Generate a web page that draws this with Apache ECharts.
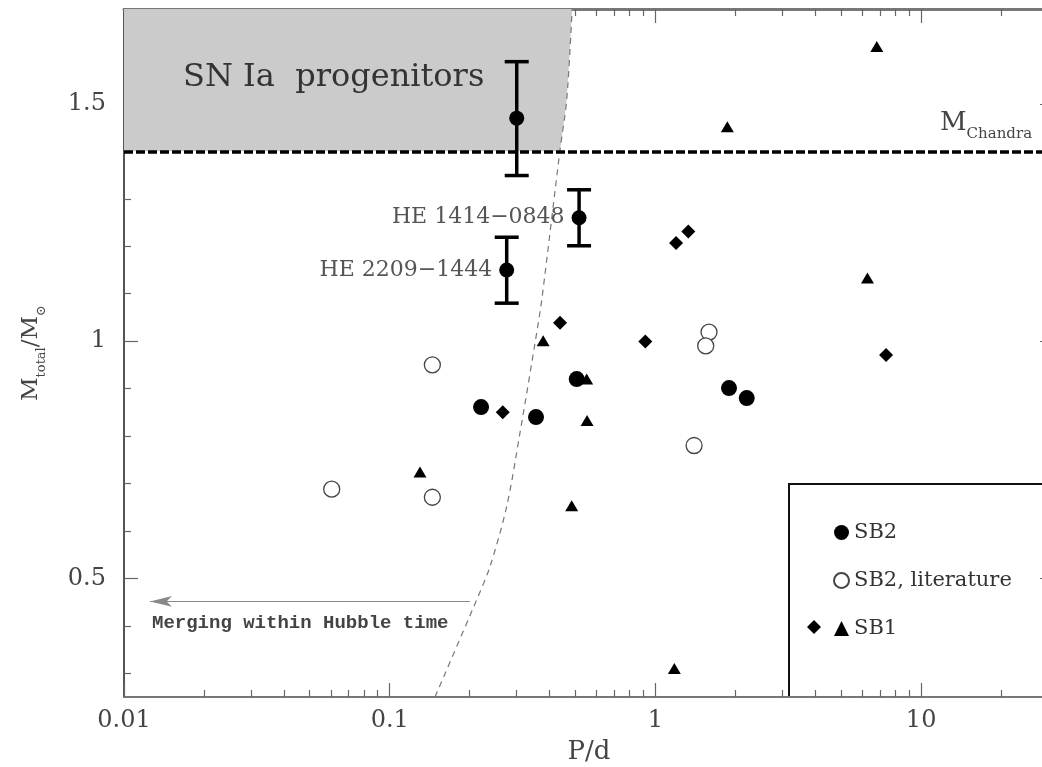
<!DOCTYPE html>
<html><head><meta charset="utf-8">
<script src="https://cdn.jsdelivr.net/npm/echarts@6/dist/echarts.min.js"></script>
<style>html,body{margin:0;padding:0;background:#fff}#c{width:1042px;height:767px}</style>
</head><body><div id="c"></div>
<script>
// ---- axis ticks ----
const xMajorTicks = [0.01, 0.1, 1, 10];
const xMinorTicks = [0.02,0.03,0.04,0.05,0.06,0.07,0.08,0.09,0.2,0.3,0.4,0.5,0.6,0.7,0.8,0.9,2,3,4,5,6,7,8,9,20,30];
const yMajorTicks = [0.5, 1, 1.5];
const yMinorTicks = [0.3,0.4,0.6,0.7,0.8,0.9,1.1,1.2,1.3,1.4,1.6,1.7];

// ---- data ----
// SB2 (filled circles)
const sb2X = [0.2207, 0.3553, 0.5055, 1.892, 2.206];
const sb2Y = [0.861, 0.840, 0.920, 0.901, 0.880];
// SB2 with error bars
const errNames = ['', 'HE 1414\u22120848', 'HE 2209\u22121444'];
const errX  = [0.3006, 0.516, 0.2756];
const errY  = [1.47, 1.26, 1.15];
const errLo = [1.349, 1.201, 1.080];
const errHi = [1.589, 1.319, 1.219];
// SB2 literature (open circles)
const litX = [0.0605, 0.1447, 0.1447, 1.591, 1.546, 1.398];
const litY = [0.688, 0.950, 0.671, 1.019, 0.990, 0.780];
// SB1 diamonds
const diaX = [0.4375, 0.916, 0.2663, 1.196, 1.330, 7.38];
const diaY = [1.039, 0.999, 0.850, 1.207, 1.231, 0.971];
// SB1 triangles
const triX = [6.81, 1.865, 6.28, 0.378, 0.551, 0.553, 0.130, 0.484, 1.178];
const triY = [1.621, 1.452, 1.133, 1.001, 0.920, 0.833, 0.724, 0.653, 0.310];
// merging-within-Hubble-time boundary (dashed curve)
const curveX = [0.148, 0.2125, 0.2385, 0.2757, 0.3093, 0.3575, 0.3735, 0.4375, 0.4637, 0.486];
const curveY = [0.25, 0.455, 0.525, 0.652, 0.807, 1.018, 1.087, 1.403, 1.509, 1.70];
// SN Ia progenitor shaded region
const shadeX = [0.01, 0.437, 0.4637, 0.486, 0.01];
const shadeY = [1.40, 1.40, 1.509, 1.70, 1.70];
const mChandra = 1.4;
const arrowX = [0.2005, 0.01253];
const arrowY = 0.4515;

const xMin = 0.01, xMax = 31.6228, yMin = 0.25, yMax = 1.70;
const SERIF = 'DejaVu Serif';
const zip = (a, b) => a.map((v, i) => [v, b[i]]);

const chart = echarts.init(document.getElementById('c'), null, {renderer: 'canvas'});

function xAxisDef(pos, major, showLine, showLabel) {
  return {
    type: 'log', min: xMin, max: xMax, position: pos,
    axisLine: {show: showLine, lineStyle: {color: '#777', width: pos === 'top' ? 3 : 2}},
    axisTick: {show: true, inside: true, length: major ? 14 : 7, customValues: major ? xMajorTicks : xMinorTicks,
      lineStyle: {color: '#666', width: 1.2}},
    axisLabel: {show: showLabel, customValues: xMajorTicks, margin: 12,
      fontFamily: SERIF, fontSize: 24, color: '#444', formatter: v => String(+(+v).toPrecision(6))},
    splitLine: {show: false}, minorTick: {show: false}
  };
}
function yAxisDef(pos, major, showLine, showLabel) {
  return {
    type: 'value', min: yMin, max: yMax, position: pos,
    axisLine: {show: showLine, lineStyle: {color: '#555', width: 2}},
    axisTick: {show: true, inside: true, length: major ? 14 : 7, customValues: major ? yMajorTicks : yMinorTicks,
      lineStyle: {color: '#666', width: 1.2}},
    axisLabel: {show: showLabel, customValues: yMajorTicks, margin: 18,
      fontFamily: SERIF, fontSize: 24, color: '#444', formatter: v => String(v)},
    splitLine: {show: false}
  };
}

const xAxes = [
  Object.assign(xAxisDef('bottom', true, true, true), {
    name: 'P/d', nameLocation: 'middle', nameGap: 42,
    nameTextStyle: {fontFamily: SERIF, fontSize: 26, color: '#444'}
  }),
  xAxisDef('bottom', false, false, false),
  xAxisDef('top', true, true, false),
  xAxisDef('top', false, false, false)
];
const yAxes = [
  Object.assign(yAxisDef('left', true, true, true), {
    name: '{m|M}{s|total}{m|/M}{s|\u2299}', nameLocation: 'middle', nameGap: 76,
    nameTextStyle: {rich: {
      m: {fontFamily: SERIF, fontSize: 23, color: '#444', verticalAlign: 'bottom', padding: [0, 0, 5, 0]},
      s: {fontFamily: SERIF, fontSize: 13, color: '#444', verticalAlign: 'bottom'}
    }}
  }),
  yAxisDef('left', false, false, false),
  yAxisDef('right', true, true, false),
  yAxisDef('right', false, false, false)
];

const option = {
  animation: false,
  backgroundColor: '#fff',
  grid: {left: 124, right: -12, top: 9, bottom: 70, containLabel: false, outerBoundsMode: 'none'},
  xAxis: xAxes,
  yAxis: yAxes,
  legend: {
    data: ['SB2', 'SB2, literature', 'SB1'], orient: 'vertical', left: 833, top: 522,
    itemWidth: 15, itemHeight: 15, itemGap: 27, padding: 0, selectedMode: false,
    textStyle: {fontFamily: SERIF, fontSize: 21, color: '#333'}
  },
  graphic: [
    {type: 'rect', z: 0, shape: {x: 789, y: 484, width: 300, height: 213},
      style: {fill: 'none', stroke: '#111', lineWidth: 2}},
    {type: 'polygon', z: 10, shape: {points: [[814, 620], [821, 627], [814, 634], [807, 627]]},
      style: {fill: '#000'}},
    {type: 'text', z: 10, x: 183, y: 78,
      style: {text: 'SN Ia  progenitors', font: '32px "DejaVu Serif"', fill: '#333', verticalAlign: 'middle'}},
    {type: 'text', z: 10, x: 152, y: 623,
      style: {text: 'Merging within Hubble time', font: 'bold 19px "Liberation Mono"', fill: '#444', verticalAlign: 'middle'}},
    {type: 'text', z: 10, x: 940, y: 142,
      style: {text: '{m|M}{s|Chandra}', verticalAlign: 'bottom',
        rich: {
          m: {font: '26px "DejaVu Serif"', fill: '#444', verticalAlign: 'bottom', padding: [0, 0, 6, 0]},
          s: {font: '15px "DejaVu Serif"', fill: '#444', verticalAlign: 'bottom'}
        }}}
  ],
  series: [
    {
      type: 'custom', name: 'shade', silent: true, z: 1, xAxisIndex: 0, yAxisIndex: 0,
      data: [[0.1, 1.5]],
      renderItem: (params, api) => ({
        type: 'polygon',
        shape: {points: shadeX.map((x, i) => api.coord([x, shadeY[i]]))},
        style: {fill: '#cbcbcb'}
      })
    },
    {
      type: 'line', name: 'merge', silent: true, z: 2, data: zip(curveX, curveY),
      symbol: 'none', smooth: 0.3,
      lineStyle: {color: '#777', width: 1.2, type: [6, 5]},
      markLine: {
        silent: true, symbol: 'none', animation: false,
        label: {show: false},
        lineStyle: {color: '#000', width: 3.5, type: [9, 3]},
        data: [{yAxis: mChandra}]
      }
    },
    {
      type: 'line', name: 'arrow', silent: true, z: 2, data: [],
      markLine: {
        silent: true, animation: false, symbol: ['none', 'arrow'], symbolSize: [8, 22],
        label: {show: false},
        lineStyle: {color: '#888', width: 1.2, type: 'solid'},
        data: [[{coord: [arrowX[0], arrowY]}, {coord: [arrowX[1], arrowY]}]]
      }
    },
    {
      type: 'custom', name: 'errbars', silent: true, z: 5,
      data: errX.map((x, i) => [x, errY[i], errLo[i], errHi[i]]),
      encode: {x: 0, y: 1},
      renderItem: (params, api) => {
        const x = api.value(0);
        const pLo = api.coord([x, api.value(2)]);
        const pHi = api.coord([x, api.value(3)]);
        const w = 12, st = {stroke: '#000', lineWidth: 3.5};
        return {type: 'group', children: [
          {type: 'line', shape: {x1: pLo[0], y1: pLo[1], x2: pHi[0], y2: pHi[1]}, style: st},
          {type: 'line', shape: {x1: pLo[0] - w, y1: pLo[1], x2: pLo[0] + w, y2: pLo[1]}, style: st},
          {type: 'line', shape: {x1: pHi[0] - w, y1: pHi[1], x2: pHi[0] + w, y2: pHi[1]}, style: st}
        ]};
      }
    },
    {
      type: 'scatter', name: 'SB2e', z: 6, symbol: 'circle', symbolSize: 15,
      itemStyle: {color: '#000', opacity: 1},
      data: errX.map((x, i) => ({name: errNames[i], value: [x, errY[i]]})),
      label: {show: true, position: 'left', distance: 7, formatter: p => p.name,
        fontFamily: SERIF, fontSize: 22, color: '#555'}
    },
    {
      type: 'scatter', name: 'SB2', z: 6, symbol: 'circle', symbolSize: 16,
      itemStyle: {color: '#000', opacity: 1}, data: zip(sb2X, sb2Y)
    },
    {
      type: 'scatter', name: 'SB2, literature', z: 6, symbol: 'circle', symbolSize: 16,
      itemStyle: {color: '#fff', borderColor: '#444', borderWidth: 1.3, opacity: 1}, data: zip(litX, litY)
    },
    {
      type: 'scatter', name: 'SB1', z: 6, symbol: 'triangle', symbolSize: [13, 11],
      itemStyle: {color: '#000', opacity: 1}, data: zip(triX, triY)
    },
    {
      type: 'scatter', name: 'SB1 diamonds', z: 6, symbol: 'diamond', symbolSize: 14,
      itemStyle: {color: '#000', opacity: 1}, data: zip(diaX, diaY)
    }
  ]
};
chart.setOption(option);
</script></body></html>
